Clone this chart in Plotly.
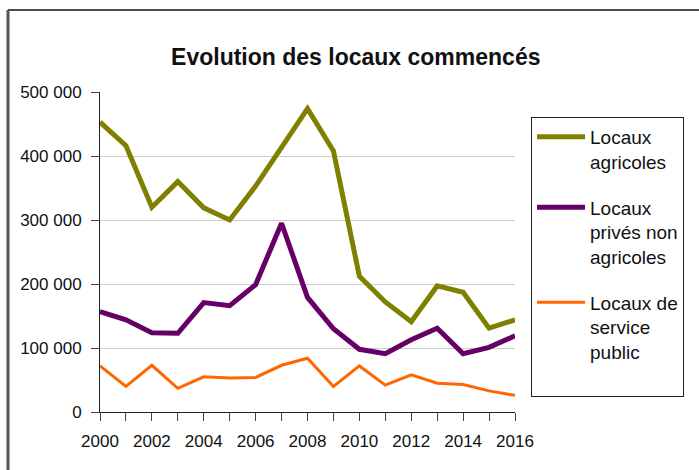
import plotly.graph_objects as go

years = list(range(2000, 2017))

agricoles = [453000, 416000, 320000, 360000, 319000, 300000, 353000, 414000, 474000,
             408000, 212000, 172000, 141000, 197000, 187000, 131000, 144000]
prives_non_agricoles = [157000, 144000, 124000, 123000, 171000, 166000, 199000, 295000, 179000,
                        130000, 98000, 91000, 113000, 131000, 91000, 101000, 119000]
service_public = [72000, 40000, 73000, 37000, 55000, 53000, 54000, 73000, 84000,
                  40000, 72000, 42000, 58000, 45000, 43000, 33000, 26000]

series_names = ["Locaux<br>agricoles", "Locaux<br>privés non<br>agricoles", "Locaux de<br>service<br>public<br> "]
series_colors = ["#808000", "#660066", "#ff6600"]
series_widths = [5, 5, 3]

y_ticks = [0, 100000, 200000, 300000, 400000, 500000]
y_labels = ["0", "100 000", "200 000", "300 000", "400 000", "500 000"]
x_labels = [str(y) if y % 2 == 0 else "" for y in years]

FONT = "Liberation Sans"

fig = go.Figure()
for i, (vals, name) in enumerate(zip([agricoles, prives_non_agricoles, service_public], series_names)):
    fig.add_trace(go.Scatter(
        x=years, y=vals, mode="lines", name=name,
        legendgroup=f"g{i}",
        line=dict(color=series_colors[i], width=series_widths[i]),
    ))

fig.update_layout(
    width=699, height=470,
    margin=dict(l=100, r=184, t=92, b=58),
    plot_bgcolor="white", paper_bgcolor="white",
    font=dict(family=FONT, size=17, color="#111111"),
    title=dict(text="<b>Evolution des locaux commencés</b>",
               font=dict(family=FONT, size=23, color="#111111"),
               x=0.509, xanchor="center", y=0.879, yanchor="middle",
               xref="container", yref="container"),
    xaxis=dict(range=[2000, 2016], tickvals=years, ticktext=x_labels,
               showgrid=False, showline=True, linecolor="#222222", linewidth=1,
               ticks="outside", ticklen=8, tickcolor="#444444", zeroline=False,
               ticklabelstandoff=6),
    yaxis=dict(range=[0, 500000], tickvals=y_ticks, ticktext=y_labels,
               showgrid=True, gridcolor="#cccccc", gridwidth=1,
               showline=True, linecolor="#222222", linewidth=1,
               ticks="outside", ticklen=8, tickcolor="#444444", zeroline=False,
               ticklabelstandoff=6),
    legend=dict(x=1.0386, xanchor="left", y=0.922, yanchor="top",
                bordercolor="#222222", borderwidth=1, bgcolor="white",
                font=dict(family=FONT, size=19, color="#111111"),
                valign="top", itemwidth=48, traceorder="grouped", tracegroupgap=18),
    shapes=[
        dict(type="line", xref="paper", yref="paper", x0=-0.2217, x1=2, y0=1.256, y1=1.256,
             line=dict(color="#111111", width=1.5)),
        dict(type="line", xref="paper", yref="paper", x0=-0.2217, x1=-0.2217, y0=1.256, y1=-1,
             line=dict(color="#555555", width=3)),
    ],
)

fig.write_html("out.html", config={"displayModeBar": False},
               post_script="document.body.style.margin='0';")
